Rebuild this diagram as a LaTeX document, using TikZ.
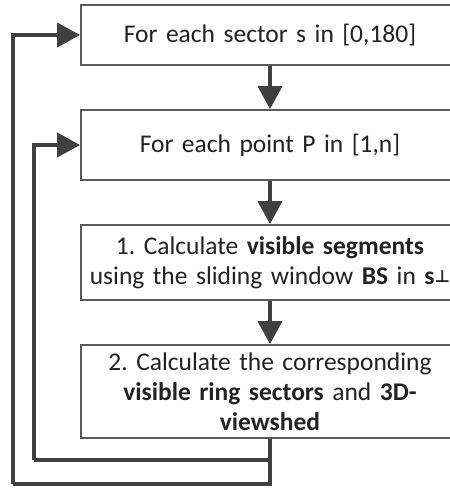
\documentclass[tikz,border=0pt]{standalone}
\usepackage{fontspec}
\setmainfont{Carlito}
\newfontfamily\symbolfont{DejaVu Sans}
\usetikzlibrary{arrows.meta}
\definecolor{boxline}{HTML}{5A5A5A}
\definecolor{flowline}{HTML}{404040}
\definecolor{ink}{HTML}{222222}
\frenchspacing
\tikzset{
  stepbox/.style={draw=boxline, line width=1.8pt, fill=white, text=ink,
    minimum width=378pt, text width=370pt, align=center, inner sep=0pt,
    font=\fontsize{25.5}{30}\selectfont},
  flow/.style={draw=flowline, line width=4pt,
    -{Triangle[length=23pt,width=24pt]}},
  loopline/.style={draw=flowline, line width=4pt}
}
\newcommand{\perpmark}{\raisebox{2pt}{\symbolfont\bfseries\fontsize{17}{17}\selectfont ⊥}}
\begin{document}
\begin{tikzpicture}[x=1pt,y=1pt]
  \useasboundingbox (0,0) rectangle (450,-491);
  \clip (0,0) rectangle (450,-491);
  \node[stepbox, minimum height=60pt] (b1) at (270,-35) {For each sector s in [0,180]};
  \node[stepbox, minimum height=70pt] (b2) at (270,-145) {For each point P in [1,n]};
  \node[stepbox, minimum height=75pt] (b3) at (270,-262.5)
    {1. Calculate \textbf{visible segments}\\using the sliding window \textbf{BS} in \textbf{s}\perpmark};
  \node[stepbox, minimum height=93pt] (b4) at (270,-391.5)
    {2. Calculate the corresponding\\\textbf{visible ring sectors} and \textbf{3D-}\\\textbf{viewshed}};
  \coordinate (innerturn) at (34,-460);
  \coordinate (outerturn) at (13,-484);
  \draw[flow] (b1.south) -- (b2.north);
  \draw[flow] (b2.south) -- (b3.north);
  \draw[flow] (b3.south) -- (b4.north);
  \draw[loopline] (b4.south) |- (innerturn);
  \draw[flow] (innerturn) |- (b2.west);
  \draw[loopline] (b4.south) |- (outerturn);
  \draw[flow] (outerturn) |- (b1.west);
\end{tikzpicture}
\end{document}
